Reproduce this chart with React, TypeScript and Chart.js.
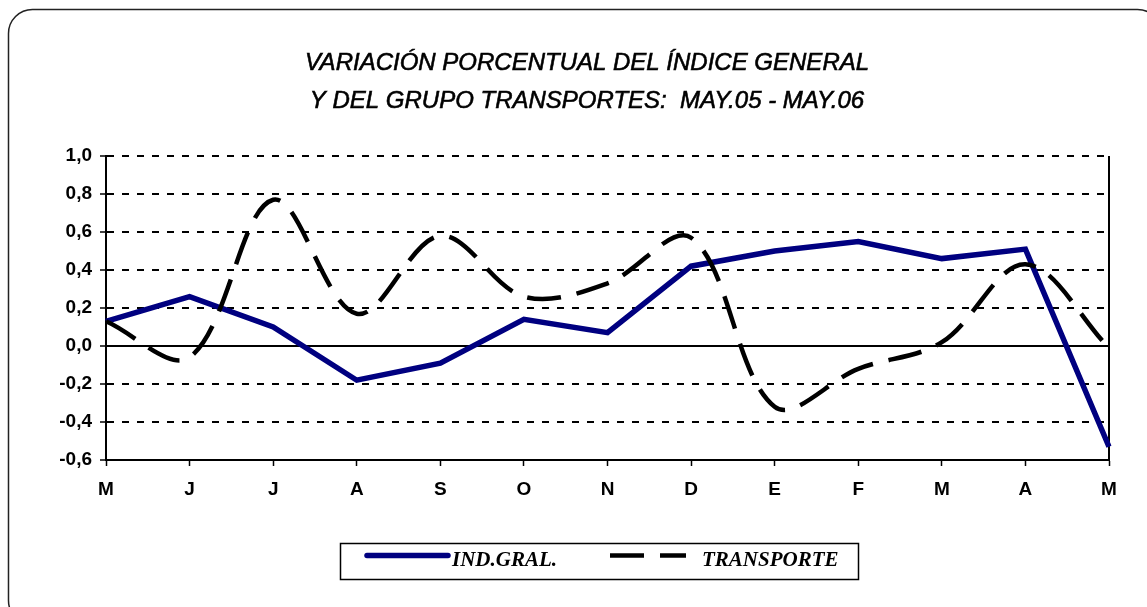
import React, { useEffect, useRef } from 'react';
import { Chart, registerables } from 'chart.js';

Chart.register(...registerables);

const MONTHS = ['M', 'J', 'J', 'A', 'S', 'O', 'N', 'D', 'E', 'F', 'M', 'A', 'M'];
const IND_GRAL = [0.13, 0.26, 0.10, -0.18, -0.09, 0.14, 0.07, 0.42, 0.50, 0.55, 0.46, 0.51, -0.53];
const TRANSPORTE = [0.13, -0.06, 0.77, 0.17, 0.58, 0.26, 0.33, 0.57, -0.32, -0.12, 0.02, 0.43, -0.01];
const SERIES_NAMES = ['IND.GRAL.', 'TRANSPORTE'];
const TITLE_LINES = [
  'VARIACIÓN PORCENTUAL DEL ÍNDICE GENERAL',
  'Y DEL GRUPO TRANSPORTES:  MAY.05 - MAY.06',
];
const Y_MIN = -0.6;
const Y_MAX = 1.0;
const Y_STEP = 0.2;

const NAVY = '#000080';

const decor = {
  id: 'decor',
  beforeDraw(chart: any) {
    const ctx = chart.ctx;
    ctx.save();
    ctx.fillStyle = '#ffffff';
    ctx.fillRect(0, 0, chart.width, chart.height);
    // rounded outer frame
    const x = 8.5, y = 9.5, w = 1153, h = 615, r = 24;
    ctx.beginPath();
    ctx.moveTo(x + r, y);
    ctx.lineTo(x + w - r, y);
    ctx.arcTo(x + w, y, x + w, y + r, r);
    ctx.lineTo(x + w, y + h - r);
    ctx.arcTo(x + w, y + h, x + w - r, y + h, r);
    ctx.lineTo(x + r, y + h);
    ctx.arcTo(x, y + h, x, y + h - r, r);
    ctx.lineTo(x, y + r);
    ctx.arcTo(x, y, x + r, y, r);
    ctx.closePath();
    ctx.strokeStyle = '#222222';
    ctx.lineWidth = 1.5;
    ctx.stroke();
    ctx.restore();
  },
  beforeDatasetsDraw(chart: any) {
    const { ctx, chartArea: a } = chart;
    ctx.save();
    ctx.strokeStyle = '#000';
    ctx.lineWidth = 2;
    ctx.beginPath();
    ctx.moveTo(a.right, a.top);
    ctx.lineTo(a.right, a.bottom);
    ctx.stroke();
    ctx.restore();
  },
  afterDraw(chart: any) {
    const ctx = chart.ctx;
    ctx.save();
    // title
    ctx.fillStyle = '#000';
    ctx.strokeStyle = '#000';
    ctx.lineWidth = 0.6;
    ctx.font = 'italic 24px "Liberation Sans", Arial, sans-serif';
    ctx.textAlign = 'center';
    ctx.textBaseline = 'middle';
    ctx.fillText(TITLE_LINES[0], 587, 63);
    ctx.strokeText(TITLE_LINES[0], 587, 63);
    ctx.fillText(TITLE_LINES[1], 587, 101);
    ctx.strokeText(TITLE_LINES[1], 587, 101);

    // legend box
    ctx.strokeStyle = '#000';
    ctx.lineWidth = 1.5;
    ctx.strokeRect(340.5, 543.5, 518, 36);

    // entry 1
    ctx.strokeStyle = NAVY;
    ctx.lineWidth = 5.5;
    ctx.lineCap = 'round';
    ctx.beginPath();
    ctx.moveTo(367, 555.5);
    ctx.lineTo(448, 555.5);
    ctx.stroke();

    // entry 2
    ctx.strokeStyle = '#000';
    ctx.lineWidth = 4.5;
    ctx.lineCap = 'butt';
    ctx.setLineDash([34, 16]);
    ctx.beginPath();
    ctx.moveTo(610, 555.5);
    ctx.lineTo(686, 555.5);
    ctx.stroke();
    ctx.setLineDash([]);

    ctx.fillStyle = '#000';
    ctx.font = 'italic bold 21px "Liberation Serif", "Times New Roman", serif';
    ctx.textAlign = 'left';
    ctx.textBaseline = 'middle';
    ctx.fillText(SERIES_NAMES[0], 452, 561);
    ctx.fillText(SERIES_NAMES[1], 702, 561);
    ctx.restore();
  },
};

export default function App() {
  const ref = useRef<HTMLCanvasElement | null>(null);

  useEffect(() => {
    if (!ref.current) return;
    const chart = new Chart(ref.current, {
      type: 'line',
      data: {
        labels: MONTHS,
        datasets: [
          {
            label: SERIES_NAMES[0],
            data: IND_GRAL,
            borderColor: NAVY,
            borderWidth: 5.5,
            pointRadius: 0,
            tension: 0,
            fill: false,
            order: 1,
          },
          {
            label: SERIES_NAMES[1],
            data: TRANSPORTE,
            borderColor: '#000000',
            borderWidth: 4.5,
            borderDash: [34, 16],
            borderCapStyle: 'butt',
            pointRadius: 0,
            tension: 0.35,
            fill: false,
            order: 0,
          },
        ],
      },
      options: {
        responsive: false,
        animation: false,
        devicePixelRatio: 1,
        layout: { padding: { top: 156, left: 0, right: 38, bottom: 107 } },
        plugins: {
          legend: { display: false },
          title: { display: false },
          tooltip: { enabled: false },
        },
        scales: {
          x: {
            offset: false,
            afterFit: (s: any) => { s.height = 40; },
            grid: {
              display: true,
              drawOnChartArea: false,
              drawTicks: true,
              tickLength: 6,
              tickColor: '#000',
              tickWidth: 1.5,
            },
            border: { display: true, color: '#000', width: 2 },
            ticks: {
              color: '#000',
              font: { family: '"Liberation Sans", Arial, sans-serif', size: 19, weight: 'bold' },
              padding: 12,
              autoSkip: false,
              maxRotation: 0,
            },
          },
          y: {
            min: Y_MIN,
            max: Y_MAX,
            afterFit: (s: any) => { s.width = 106; },
            grid: {
              color: '#000',
              lineWidth: 2,
              drawTicks: true,
              tickLength: 6,
              tickColor: '#000',
              tickWidth: 1.5,
            },
            border: {
              display: true,
              color: '#000',
              width: 2,
              dash: (c: any) => (c.tick && Math.abs(c.tick.value) < 1e-9 ? [] : [7, 8]),
            },
            ticks: {
              stepSize: Y_STEP,
              color: '#000',
              padding: 8,
              font: { family: '"Liberation Sans", Arial, sans-serif', size: 19, weight: 'bold' },
              callback: (v: any) => {
                const n = Math.abs(Number(v)) < 1e-9 ? 0 : Number(v);
                return n.toFixed(1).replace('.', ',');
              },
            },
          },
        },
      },
      plugins: [decor],
    } as any);
    return () => chart.destroy();
  }, []);

  return (
    <div style={{ position: 'fixed', left: 0, top: 0, width: 1147, height: 607, background: '#fff' }}>
      <canvas ref={ref} width={1147} height={607} style={{ display: 'block' }} />
    </div>
  );
}
